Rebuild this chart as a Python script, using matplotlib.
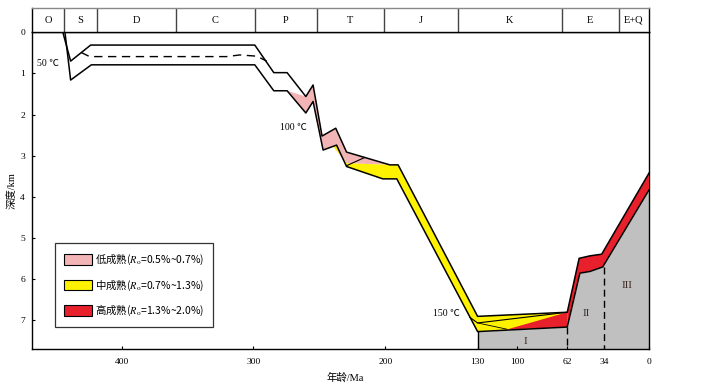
import matplotlib.pyplot as plt
from matplotlib.patches import Patch

plt.rcParams['font.family'] = ['Liberation Serif', 'Noto Sans CJK SC']
plt.rcParams['mathtext.fontset'] = 'stix'

# geologic periods (Ma)
period_edges = [468, 443.8, 419, 359, 299, 252, 201, 145, 66, 23, 0]
period_names = ['O', 'S', 'D', 'C', 'P', 'T', 'J', 'K', 'E', 'E+Q']

# top horizon of the formation (age Ma, depth km)
top_age = [444.6, 438.7, 423.5, 299.0, 284.6, 274.5, 260.3, 254.8, 248.0, 237.6,
           229.4, 196.6, 190.3, 130.0, 62.0, 53.0, 44.8, 35.9, 0.0]
top_depth = [0.0, 0.70, 0.31, 0.31, 0.98, 0.98, 1.56, 1.28, 2.52, 2.33,
             2.91, 3.22, 3.22, 6.90, 6.80, 5.49, 5.43, 5.39, 3.42]

# base horizon
base_age = [443.0, 438.7, 423.0, 299.0, 284.6, 274.5, 260.3, 254.8, 247.2, 237.0,
            229.4, 201.9, 191.3, 130.0, 62.0, 52.4, 44.8, 35.1, 0.0]
base_depth = [0.0, 1.16, 0.79, 0.79, 1.42, 1.42, 1.96, 1.68, 2.86, 2.74,
              3.26, 3.56, 3.56, 7.27, 7.16, 5.85, 5.81, 5.70, 3.83]

# dashed inner horizon (early Paleozoic)
mid_age = [430.7, 424.3, 320.3, 310.4, 297.5, 290.0]
mid_depth = [0.49, 0.59, 0.59, 0.55, 0.58, 0.70]

# other inner horizons
inner_t_age = [229.4, 215.6]
inner_t_depth = [3.24, 3.04]
inner_k_age = [136.0, 130.0, 62.0]
inner_k_depth = [6.92, 7.06, 6.80]
inner_k2_age = [130.0, 108.0]
inner_k2_depth = [7.06, 7.21]

# maturity zones
pink_age = [274.5, 260.3, 254.8, 248.0, 237.6, 229.4, 196.6,
            229.4, 239.5, 247.2, 254.8, 260.3]
pink_depth = [1.42, 1.56, 1.28, 2.52, 2.33, 2.91, 3.22,
              3.18, 2.77, 2.86, 1.68, 1.96]
yellow_age = [239.5, 229.4, 196.6, 190.3, 130.0, 62.0,
              62.0, 130.0, 191.3, 201.9, 229.4, 237.0]
yellow_depth = [2.77, 3.18, 3.22, 3.22, 6.90, 6.80,
                7.16, 7.27, 3.56, 3.56, 3.26, 2.74]
red1_age = [108.0, 62.0, 62.0]
red1_depth = [7.22, 6.80, 7.16]
red2_age = [62.0, 53.0, 44.8, 35.9, 0.0, 0.0, 35.1, 44.8, 52.4, 62.0]
red2_depth = [6.80, 5.49, 5.43, 5.39, 3.42, 3.83, 5.70, 5.81, 5.85, 7.16]

# present-day strata (grey) under base horizon since 130 Ma
grey_age = base_age[13:]
grey_depth = base_depth[13:]

x_ticks = [400, 300, 200, 130, 100, 62, 34, 0]
y_ticks = [0, 1, 2, 3, 4, 5, 6, 7]

pink_c = '#f2b4b4'
yellow_c = '#fff200'
red_c = '#e8202c'
grey_c = '#c0c0c0'

fig = plt.figure(figsize=(7.03, 3.85), dpi=100)
W, H = 703, 385
ax = fig.add_axes([32 / W, 1 - 349.3 / H, 617 / W, 317 / H])
hdr = fig.add_axes([32 / W, 1 - 32.3 / H, 617 / W, 24 / H])

ax.set_xlim(468, 0)
ax.set_ylim(7.7, 0)

# grey block
ax.fill_between(grey_age, grey_depth, 7.7, color=grey_c, lw=0, zorder=1)
ax.plot([130, 130], [base_depth[13], 7.7], color='black', lw=1.0, zorder=4)
for a, d in [(62, base_depth[14]), (34, 5.70)]:
    ax.plot([a, a], [d, 7.7], color='black', lw=1.0, ls=(0, (5, 3)), zorder=4)

ax.fill(pink_age, pink_depth, color=pink_c, lw=0, zorder=2)
ax.fill(yellow_age, yellow_depth, color=yellow_c, lw=0, zorder=2)
ax.fill(red1_age, red1_depth, color=red_c, lw=0, zorder=3)
ax.fill(red2_age, red2_depth, color=red_c, lw=0, zorder=3)

ax.plot(top_age, top_depth, color='black', lw=1.1, zorder=5)
ax.plot(base_age, base_depth, color='black', lw=1.1, zorder=5)
ax.plot(mid_age, mid_depth, color='black', lw=1.0, ls=(0, (6, 4)), zorder=5)
ax.plot(inner_t_age, inner_t_depth, color='black', lw=0.8, zorder=5)
ax.plot(inner_k_age, inner_k_depth, color='black', lw=0.8, zorder=5)
ax.plot(inner_k2_age, inner_k2_depth, color='black', lw=0.6, zorder=5)

# temperature labels
ax.text(464.5, 0.75, '50 ℃', fontsize=7, ha='left', va='center')
ax.text(280, 2.32, '100 ℃', fontsize=7, ha='left', va='center')
ax.text(163.9, 6.84, '150 ℃', fontsize=7, ha='left', va='center')

# stage labels
roman_c = '#3a2a22'
ax.text(94.1, 7.5, 'I', fontsize=8, ha='center', va='center', color=roman_c)
ax.text(47.3, 6.84, 'II', fontsize=8, ha='center', va='center', color=roman_c)
ax.text(16.9, 6.16, 'III', fontsize=8, ha='center', va='center', color=roman_c)

ax.set_xticks(x_ticks)
ax.set_xticklabels([str(t) for t in x_ticks])
ax.set_yticks(y_ticks)
ax.tick_params(direction='in', length=2.5, width=0.8, labelsize=6.8, pad=6)
ax.tick_params(axis='y', pad=5)
for s in ax.spines.values():
    s.set_linewidth(1.0)

ax.set_xlabel('年龄/Ma', fontsize=7.5, labelpad=1)
ax.xaxis.set_label_coords(0.507, -0.072)
ax.set_ylabel('深度/km', fontsize=7.5, labelpad=3)

# legend
handles = [Patch(facecolor=pink_c, edgecolor='black', lw=0.8),
           Patch(facecolor=yellow_c, edgecolor='black', lw=0.8),
           Patch(facecolor=red_c, edgecolor='black', lw=0.8)]
labels = [r'低成熟($R_\mathrm{o}$=0.5%~0.7%)',
          r'中成熟($R_\mathrm{o}$=0.7%~1.3%)',
          r'高成熟($R_\mathrm{o}$=1.3%~2.0%)']
leg = ax.legend(handles, labels, loc='lower left', bbox_to_anchor=(0.037, 0.07),
                prop={'family': 'Noto Sans CJK SC', 'size': 7.5},
                frameon=True, fancybox=False, edgecolor='black',
                handlelength=2.7, handleheight=1.15, labelspacing=1.0,
                handletextpad=0.3, borderpad=0.85, borderaxespad=0)
leg.get_frame().set_linewidth(0.9)

# period header
hdr.set_xlim(468, 0)
hdr.set_ylim(0, 1)
hdr.set_xticks([])
hdr.set_yticks([])
for b in period_edges[1:-1]:
    hdr.axvline(b, color='#444444', lw=1.0)
for i, name in enumerate(period_names):
    mid = (period_edges[i] + period_edges[i + 1]) / 2
    hdr.text(mid, 0.5, name, fontsize=7.5, ha='center', va='center')
hdr.spines['top'].set_color('#888888')
for s in hdr.spines.values():
    s.set_linewidth(1.0)

fig.savefig('out.png', dpi=100)
